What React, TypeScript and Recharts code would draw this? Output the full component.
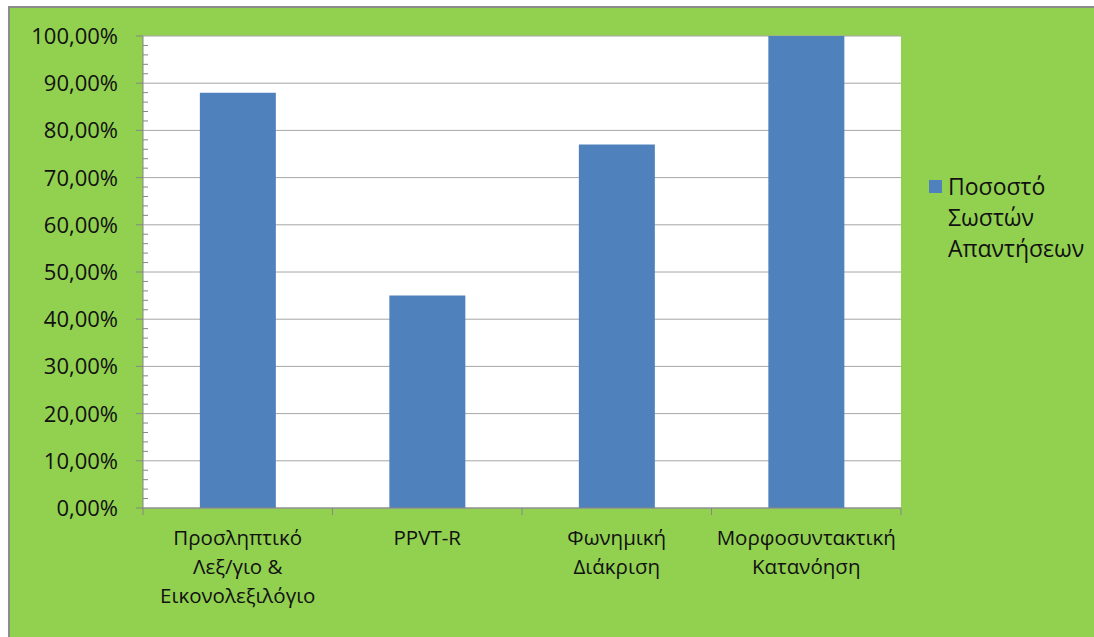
import { Bar, BarChart, CartesianGrid, XAxis, YAxis } from 'recharts';

const categories = [
    'Προσληπτικό\nΛεξ/γιο &\nΕικονολεξιλόγιο',
    'PPVT-R',
    'Φωνημική\nΔιάκριση',
    'Μορφοσυντακτική\nΚατανόηση',
];
const values = [0.88, 0.45, 0.77, 1.0];
const seriesName = ['Ποσοστό', 'Σωστών', 'Απαντήσεων'];
const majorTicks = [0, 0.1, 0.2, 0.3, 0.4, 0.5, 0.6, 0.7, 0.8, 0.9, 1];
const minorTicks = Array.from({ length: 51 }, (_, i) => i / 50);

const FONT = '"Open Sans", sans-serif';
const TEXT = '#111111';
const AXIS = '#868686';
const BLUE = '#4F81BD';

const data = categories.map((name, i) => ({ name, value: values[i] }));

const fmt = (v: number) => (v * 100).toFixed(2).replace('.', ',') + '%';

function YTick({ x, y, payload }: any) {
    const v = payload.value as number;
    const major = Math.round(v * 100) % 10 === 0;
    if (!major) {
        return <line x1={x} x2={x + 5} y1={y} y2={y} stroke={AXIS} />;
    }
    return (
        <g>
            <line x1={x - 7} x2={x} y1={y} y2={y} stroke={AXIS} />
            <text x={x - 25} y={y} dy={8} textAnchor="end" fill={TEXT} fontSize={22} fontFamily={FONT}>
                {fmt(v)}
            </text>
        </g>
    );
}

function XTick({ x, y, payload, index }: any) {
    const half = payload.offset || 94.75;
    const lines = String(payload.value).split('\n');
    return (
        <g>
            <line x1={x - half} x2={x - half} y1={y} y2={y + 7} stroke={AXIS} />
            {index === categories.length - 1 && (
                <line x1={x + half} x2={x + half} y1={y} y2={y + 7} stroke={AXIS} />
            )}
            <text x={x} y={y} textAnchor="middle" fill={TEXT} fontSize={20.5} fontFamily={FONT}>
                {lines.map((l, i) => (
                    <tspan key={i} x={x} dy={i === 0 ? 37 : 29}>
                        {l}
                    </tspan>
                ))}
            </text>
        </g>
    );
}

export default function App() {
    return (
        <div
            style={{
                position: 'absolute',
                left: 8,
                top: 6,
                width: 1084,
                height: 629,
                background: '#92D050',
                borderLeft: '2px solid #8c8c8c',
                borderTop: '2px solid #8c8c8c',
            }}
        >
            <BarChart
                width={1084}
                height={629}
                data={data}
                margin={{ top: 28, right: 193, bottom: 0, left: 0 }}
                barCategoryGap="30%"
            >
                <CartesianGrid
                    vertical={false}
                    horizontalValues={majorTicks}
                    stroke="#a6a6a6"
                    fill="#ffffff"
                />
                <XAxis
                    dataKey="name"
                    height={129}
                    interval={0}
                    tickSize={0}
                    tickMargin={0}
                    tickLine={false}
                    axisLine={{ stroke: AXIS }}
                    tick={<XTick />}
                />
                <YAxis
                    width={133}
                    domain={[0, 1]}
                    ticks={minorTicks}
                    interval={0}
                    tickSize={0}
                    tickMargin={0}
                    tickLine={false}
                    axisLine={{ stroke: AXIS }}
                    tick={<YTick />}
                />
                <Bar dataKey="value" fill={BLUE} isAnimationActive={false} />
            </BarChart>
            <div
                style={{
                    position: 'absolute',
                    left: 919,
                    top: 163,
                    fontFamily: FONT,
                    fontSize: 23,
                    lineHeight: '31px',
                    color: TEXT,
                }}
            >
                <div
                    style={{
                        position: 'absolute',
                        left: 0,
                        top: 9,
                        width: 13,
                        height: 13,
                        background: BLUE,
                    }}
                />
                <div style={{ marginLeft: 19 }}>
                    {seriesName.map((s) => (
                        <div key={s}>{s}</div>
                    ))}
                </div>
            </div>
        </div>
    );
}
